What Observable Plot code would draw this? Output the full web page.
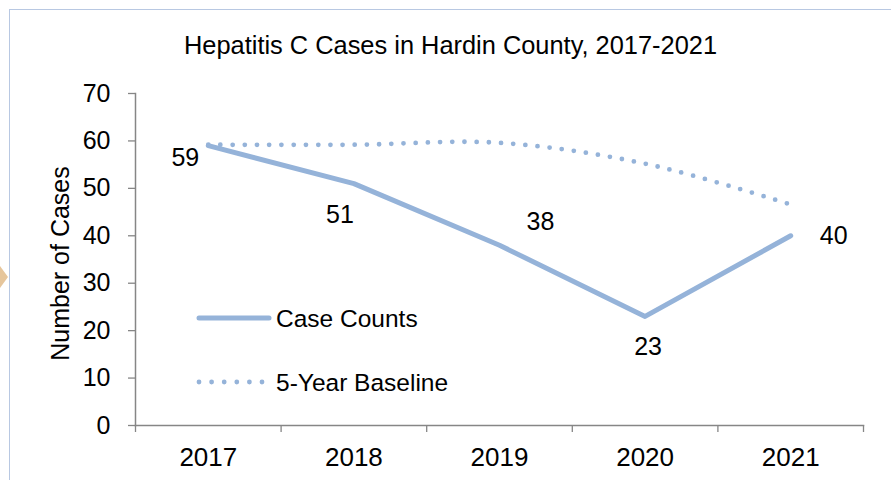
<!DOCTYPE html>
<html>
<head>
<meta charset="utf-8">
<script src="https://cdn.jsdelivr.net/npm/d3@7"></script>
<script src="https://cdn.jsdelivr.net/npm/@observablehq/plot@0.6"></script>
<style>
  html, body { margin: 0; padding: 0; background: #fff; overflow: hidden; }
  #wrap { position: relative; width: 891px; height: 480px; font-family: "Liberation Sans", Arial, sans-serif; }
  #frame { position: absolute; left: 9px; top: 9px; width: 900px; height: 500px;
           border-top: 1.5px solid #b8c8e2; border-left: 1.5px solid #b8c8e2; pointer-events: none; }
  #pointer { position: absolute; left: 0; top: 266px; width: 0; height: 0;
             border-left: 8px solid #e6c69c; border-top: 11px solid transparent; border-bottom: 11px solid transparent; }
  #legend { position: absolute; left: 0; top: 0; pointer-events: none; }
</style>
</head>
<body>
<div id="wrap"><div id="frame"></div><div id="pointer"></div></div>
<script>
// ---- data ----
const title = "Hepatitis C Cases in Hardin County, 2017-2021";
const yLabel = "Number of Cases";
const years = [2017, 2018, 2019, 2020, 2021];
const caseCounts = [59, 51, 38, 23, 40];
const baseline = [59.2, 59.2, 59.6, 55.2, 46.6];
const yTicks = [0, 10, 20, 30, 40, 50, 60, 70];
const seriesNames = ["Case Counts", "5-Year Baseline"];
const labelPlacement = ["left-below", "below", "above-right", "below", "right"];

// ---- styling ----
const lineColor = "#95b3d9";
const axisColor = "#868686";
const placementOffsets = {
  "left-below": [-23, 12],
  "below": [-14, 31],
  "above-right": [41, -23],
  "right": [43, 0]
};
const placementOffsetsBelow23 = [3, 31];

const rows = years.map((year, i) => ({year, cases: caseCounts[i], baseline: baseline[i], place: labelPlacement[i]}));
const boundaries = years.map(y => y - 0.5).concat([years[years.length - 1] + 0.5]);

const labelMarks = rows.map((r, i) => {
  let off = placementOffsets[r.place];
  if (r.place === "below" && i > 1) off = placementOffsetsBelow23;
  return Plot.text([r], {x: "year", y: "cases", text: d => String(d.cases), dx: off[0], dy: off[1],
    textAnchor: "middle", lineAnchor: "middle", fontSize: 25, fill: "#000"});
});

const chart = Plot.plot({
  width: 891,
  height: 480,
  marginLeft: 135,
  marginRight: 28,
  marginTop: 93,
  marginBottom: 55,
  style: {fontFamily: "'Liberation Sans', Arial, sans-serif", fontSize: "25px", background: "transparent", color: "#000"},
  x: {type: "linear", domain: [boundaries[0], boundaries[boundaries.length - 1]]},
  y: {domain: [yTicks[0], yTicks[yTicks.length - 1]]},
  marks: [
    Plot.axisY({ticks: yTicks, tickSize: 7, tickPadding: 18, stroke: axisColor, strokeWidth: 1.3, fill: "#000", label: null, fontSize: 25}),
    Plot.axisX({ticks: boundaries, tickSize: 7, tickFormat: () => "", stroke: axisColor, strokeWidth: 1.3, label: null}),
    Plot.axisX({ticks: years, tickSize: 0, tickPadding: 22, tickFormat: d => String(d), fill: "#000", label: null, fontSize: 26}),
    Plot.frame({anchor: "left", stroke: axisColor, strokeWidth: 1.5}),
    Plot.frame({anchor: "bottom", stroke: axisColor, strokeWidth: 1.5}),
    Plot.line(rows, {x: "year", y: "baseline", stroke: lineColor, strokeWidth: 4.8, strokeDasharray: "0,12.2",
      strokeLinecap: "round", curve: "catmull-rom"}),
    Plot.line(rows, {x: "year", y: "cases", stroke: lineColor, strokeWidth: 5, strokeLinecap: "round", strokeLinejoin: "round"}),
    ...labelMarks,
    Plot.text([title], {frameAnchor: "top", dx: -49, dy: -47.5, lineAnchor: "middle", fontSize: 25.4, fill: "#000"}),
    Plot.text([yLabel], {frameAnchor: "left", rotate: -90, dx: -67, dy: 4, textAnchor: "middle", lineAnchor: "bottom", fontSize: 25, fill: "#000"})
  ]
});
document.getElementById("wrap").appendChild(chart);

// ---- legend (overlay inside plot area) ----
const ns = "http://www.w3.org/2000/svg";
const leg = document.createElementNS(ns, "svg");
leg.setAttribute("id", "legend");
leg.setAttribute("width", 891);
leg.setAttribute("height", 480);
const legendItems = [
  {name: seriesNames[0], y: 318, dash: null, w: 5, x2: 269},
  {name: seriesNames[1], y: 382, dash: "0,12.6", w: 4.8, x2: 264}
];
legendItems.forEach(it => {
  const ln = document.createElementNS(ns, "line");
  ln.setAttribute("x1", 199); ln.setAttribute("x2", it.x2);
  ln.setAttribute("y1", it.y); ln.setAttribute("y2", it.y);
  ln.setAttribute("stroke", lineColor);
  ln.setAttribute("stroke-width", it.w);
  ln.setAttribute("stroke-linecap", "round");
  if (it.dash) ln.setAttribute("stroke-dasharray", it.dash);
  leg.appendChild(ln);
  const tx = document.createElementNS(ns, "text");
  tx.setAttribute("x", 276); tx.setAttribute("y", it.y);
  tx.setAttribute("dy", "0.35em");
  tx.setAttribute("font-size", 24.5);
  tx.setAttribute("font-family", "'Liberation Sans', Arial, sans-serif");
  tx.setAttribute("fill", "#000");
  tx.textContent = it.name;
  leg.appendChild(tx);
});
document.getElementById("wrap").appendChild(leg);
</script>
</body>
</html>
